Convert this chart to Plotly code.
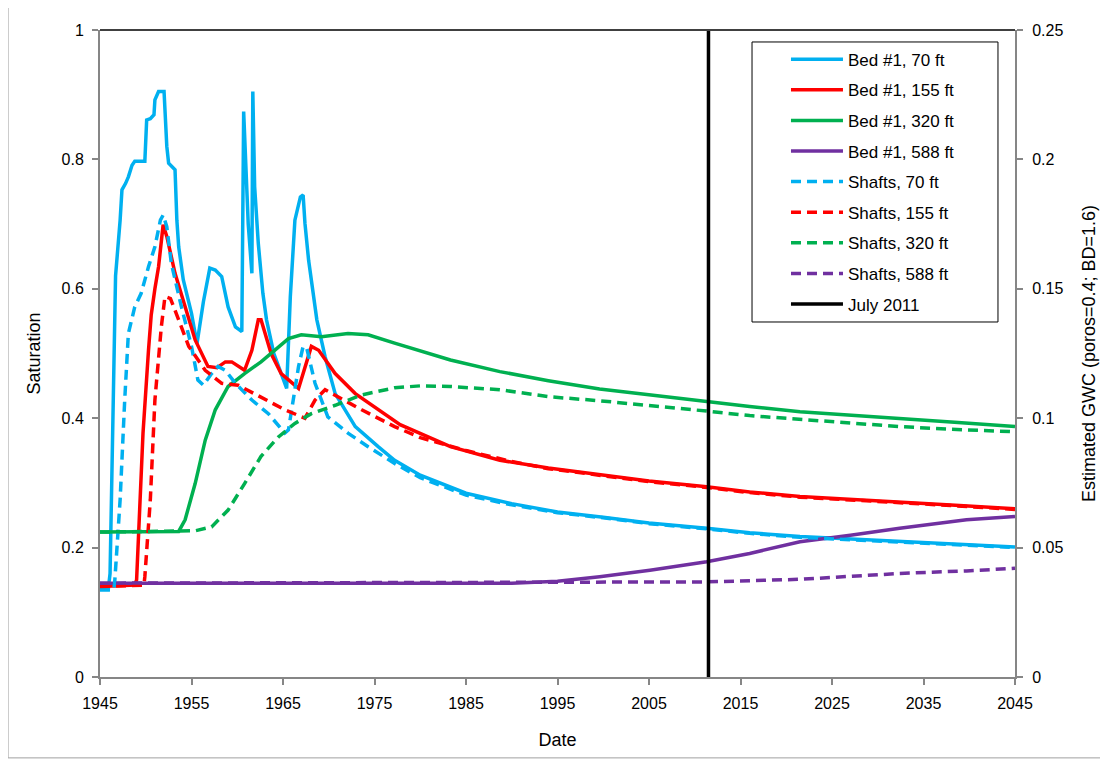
import plotly.graph_objects as go

# ---------------- data ----------------
bed70_x = [1945.0, 1945.9, 1946.1, 1946.4, 1946.7, 1947.2, 1947.4, 1947.8, 1948.1, 1948.5, 1948.8, 1949.9,
           1950.1, 1950.5, 1950.9, 1951.0, 1951.4, 1952.0, 1952.3, 1952.5, 1953.2, 1953.4, 1953.6, 1954.1,
           1955.0, 1955.6, 1956.3, 1957.0, 1957.6, 1958.3, 1959.0, 1959.8, 1960.5, 1960.7, 1961.2, 1961.6,
           1961.7, 1961.9, 1962.3, 1962.8, 1963.2, 1964.0, 1965.4, 1965.8, 1966.3, 1966.9, 1967.2, 1967.4,
           1967.8, 1968.7, 1969.6, 1970.7, 1972.9, 1975.4, 1977.2, 1980, 1985, 1990, 1995, 2000, 2005,
           2011.3, 2016, 2021.5, 2027, 2032.4, 2038, 2045]
bed70_y = [0.135, 0.135, 0.16, 0.40, 0.62, 0.706, 0.753, 0.763, 0.773, 0.791, 0.797, 0.797,
           0.861, 0.863, 0.869, 0.892, 0.905, 0.905, 0.820, 0.794, 0.784, 0.706, 0.665, 0.614,
           0.562, 0.515, 0.58, 0.632, 0.629, 0.619, 0.572, 0.541, 0.534, 0.874, 0.70, 0.624,
           0.905, 0.758, 0.670, 0.593, 0.552, 0.50, 0.446, 0.588, 0.706, 0.742, 0.745, 0.701,
           0.644, 0.552, 0.495, 0.438, 0.387, 0.356, 0.335, 0.312, 0.284, 0.268, 0.255, 0.247, 0.238,
           0.230, 0.223, 0.217, 0.213, 0.209, 0.205, 0.201]

bed155_x = [1945.0, 1948.8, 1949.0, 1949.2, 1949.7, 1950.3, 1950.6, 1951.0, 1951.4, 1951.9, 1952.3, 1953.2,
            1954.3, 1955.4, 1956.8, 1957.8, 1958.7, 1959.4, 1960.8, 1961.6, 1962.3, 1962.6, 1963.7, 1964.8,
            1966.7, 1967.4, 1968.1, 1968.9, 1970.7, 1972.9, 1975.4, 1977.8, 1983.3, 1988.7, 1994, 1999.6,
            2005, 2011.3, 2016, 2021.5, 2027, 2032.4, 2038, 2045]
bed155_y = [0.140, 0.142, 0.15, 0.222, 0.377, 0.505, 0.560, 0.60, 0.634, 0.699, 0.681, 0.624,
            0.572, 0.521, 0.480, 0.478, 0.487, 0.487, 0.474, 0.505, 0.552, 0.552, 0.500, 0.469,
            0.446, 0.480, 0.511, 0.505, 0.469, 0.438, 0.413, 0.390, 0.356, 0.335, 0.323, 0.313,
            0.303, 0.294, 0.286, 0.279, 0.275, 0.271, 0.266, 0.260]

bed320_x = [1945, 1953.6, 1954.3, 1955.4, 1956.5, 1957.6, 1959.0, 1960.8, 1962.6, 1964.1, 1965.6, 1967.0,
            1969.2, 1972.1, 1974.3, 1977.2, 1983.3, 1988.7, 1994, 1999.6, 2005, 2011.3, 2016, 2021.5,
            2027, 2032.4, 2038, 2045]
bed320_y = [0.224, 0.225, 0.243, 0.299, 0.366, 0.413, 0.449, 0.469, 0.487, 0.505, 0.523, 0.529,
            0.526, 0.531, 0.529, 0.516, 0.490, 0.472, 0.458, 0.445, 0.436, 0.426, 0.418, 0.410,
            0.405, 0.400, 0.394, 0.387]

bed588_x = [1945, 1990, 1995, 1999.6, 2005.1, 2011.3, 2016, 2021.5, 2027, 2032.4, 2039.7, 2045]
bed588_y = [0.145, 0.145, 0.148, 0.155, 0.165, 0.178, 0.191, 0.209, 0.219, 0.230, 0.243, 0.248]

sh70_x = [1945.0, 1946.5, 1946.6, 1947.2, 1947.7, 1948.1, 1948.8, 1949.5, 1950.3, 1951.0, 1951.6, 1951.9,
          1952.3, 1952.8, 1953.9, 1955.0, 1955.7, 1956.3, 1957.2, 1957.9, 1958.7, 1959.8, 1961.6, 1963.4,
          1965.2, 1965.6, 1966.7, 1967.2, 1967.6, 1968.5, 1969.9, 1972.1, 1974.3, 1977.2, 1980, 1985,
          1990, 1995, 2000, 2005, 2011.3, 2016, 2021.5, 2027, 2032.4, 2038, 2045]
sh70_y = [0.135, 0.135, 0.145, 0.274, 0.428, 0.531, 0.572, 0.593, 0.634, 0.665, 0.706, 0.714,
          0.696, 0.639, 0.572, 0.511, 0.459, 0.451, 0.469, 0.480, 0.474, 0.454, 0.428, 0.407,
          0.377, 0.382, 0.480, 0.511, 0.508, 0.454, 0.402, 0.377, 0.356, 0.330, 0.308, 0.281,
          0.266, 0.254, 0.246, 0.237, 0.229, 0.222, 0.216, 0.212, 0.208, 0.204, 0.200]

sh155_x = [1945.0, 1949.8, 1949.9, 1950.5, 1951.0, 1951.7, 1952.1, 1952.7, 1953.6, 1954.7, 1956.5, 1958.3,
           1960.1, 1962.6, 1965.2, 1967.4, 1968.5, 1969.6, 1971.0, 1973.6, 1977.2, 1980, 1985, 1990,
           1994, 1999.6, 2005, 2011.3, 2016, 2021.5, 2027, 2032.4, 2038, 2045]
sh155_y = [0.140, 0.142, 0.155, 0.274, 0.428, 0.541, 0.588, 0.585, 0.552, 0.511, 0.474, 0.454,
           0.451, 0.433, 0.413, 0.400, 0.428, 0.444, 0.433, 0.413, 0.387, 0.370, 0.350, 0.333,
           0.322, 0.312, 0.302, 0.293, 0.285, 0.278, 0.274, 0.270, 0.265, 0.259]

sh320_x = [1945, 1955.4, 1957.2, 1959.0, 1960.8, 1962.6, 1964.5, 1966.3, 1968.1, 1970.7, 1973.6, 1977.2,
           1980, 1983.3, 1988.7, 1994.2, 1999.6, 2005, 2011.3, 2016, 2021.5, 2027, 2032.4, 2038, 2045]
sh320_y = [0.224, 0.226, 0.232, 0.258, 0.299, 0.341, 0.371, 0.392, 0.407, 0.420, 0.436, 0.447,
           0.450, 0.449, 0.444, 0.433, 0.427, 0.420, 0.411, 0.404, 0.398, 0.393, 0.387, 0.383, 0.379]

sh588_x = [1945, 2011.3, 2021.5, 2032.4, 2039.7, 2045]
sh588_y = [0.145, 0.147, 0.151, 0.160, 0.164, 0.168]

july2011_x = [2011.5, 2011.5]
july2011_y = [0, 1]

x_ticks = list(range(1945, 2046, 10))

# ---------------- figure ----------------
BLUE, RED, GREEN, PURPLE = "#00B0F0", "#FF0000", "#00B050", "#7030A0"
W = 3.5
DASH = "10px,6px"

series = [
    ("Bed #1, 70 ft", bed70_x, bed70_y, BLUE, "solid"),
    ("Bed #1, 155 ft", bed155_x, bed155_y, RED, "solid"),
    ("Bed #1, 320 ft", bed320_x, bed320_y, GREEN, "solid"),
    ("Bed #1, 588 ft", bed588_x, bed588_y, PURPLE, "solid"),
    ("Shafts, 70 ft", sh70_x, sh70_y, BLUE, DASH),
    ("Shafts, 155 ft", sh155_x, sh155_y, RED, DASH),
    ("Shafts, 320 ft", sh320_x, sh320_y, GREEN, DASH),
    ("Shafts, 588 ft", sh588_x, sh588_y, PURPLE, DASH),
]

fig = go.Figure()
for i, (name, xs, ys, col, dash) in enumerate(series):
    fig.add_trace(go.Scatter(x=xs, y=ys, name=name, mode="lines", legendgroup=f"g{i}",
                             line=dict(color=col, width=W, dash=dash)))
fig.add_trace(go.Scatter(x=july2011_x, y=july2011_y, name="July 2011", mode="lines", legendgroup="g9",
                         line=dict(color="black", width=3.5)))
# invisible trace to anchor secondary axis
fig.add_trace(go.Scatter(x=[1945], y=[0], yaxis="y2", mode="lines", showlegend=False,
                         hoverinfo="skip", line=dict(width=0)))

AX = "#868686"
FONT = "Liberation Sans, Arial, sans-serif"
fig.update_layout(
    width=1108, height=763,
    margin=dict(l=92, r=101, t=22, b=94),
    paper_bgcolor="white", plot_bgcolor="white",
    font=dict(family=FONT, size=15, color="black"),
    showlegend=True,
    legend=dict(x=0.7497, y=0.982, xanchor="left", yanchor="top",
                borderwidth=0, bgcolor="rgba(0,0,0,0)",
                font=dict(size=17, family=FONT), itemwidth=52,
                traceorder="grouped", tracegroupgap=5.5),
    xaxis=dict(range=[1945, 2045], tickvals=x_ticks, ticktext=[str(t) for t in x_ticks],
               showgrid=False, zeroline=False, showline=True, linecolor=AX, linewidth=2,
               ticks="outside", ticklen=6, tickcolor=AX, tickwidth=1.5, ticklabelstandoff=5,
               title=dict(text="Date", standoff=22), tickfont=dict(size=16)),
    yaxis=dict(range=[0, 1], dtick=0.2, showgrid=False, zeroline=False,
               showline=True, linecolor=AX, linewidth=2, ticks="outside", ticklen=6,
               tickcolor=AX, tickwidth=1.5, ticklabelstandoff=5,
               title=dict(text="Saturation", standoff=16),
               tickfont=dict(size=16)),
    yaxis2=dict(range=[0, 0.25], dtick=0.05, overlaying="y", side="right", showgrid=False,
                zeroline=False, showline=True, linecolor=AX, linewidth=2, ticks="outside",
                ticklen=6, tickcolor=AX, tickwidth=1.5, ticklabelstandoff=6,
                title=dict(text="Estimated GWC (poros=0.4; BD=1.6)", standoff=20),
                tickfont=dict(size=16)),
    shapes=[
        dict(type="line", xref="paper", yref="paper", x0=0, x1=1, y0=1, y1=1,
             line=dict(color="#404040", width=2)),
        dict(type="rect", xref="paper", yref="paper", x0=-0.1005, x1=1.098, y0=-0.125, y1=1.0386,
             line=dict(color="#A0A0A0", width=1), layer="below"),
        dict(type="rect", xref="paper", yref="paper", x0=0.7126, x1=0.9814, y0=0.5487, y1=0.9815,
             line=dict(color="black", width=1), fillcolor="white", layer="above"),
    ],
)

fig.write_html("out.html")
